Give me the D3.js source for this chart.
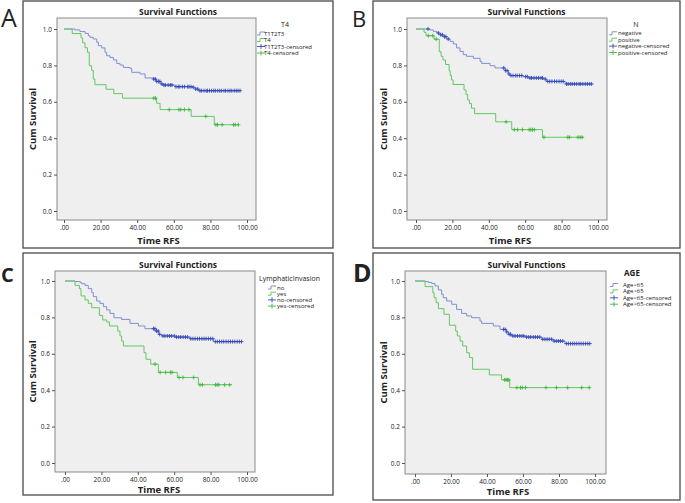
<!DOCTYPE html>
<html>
<head>
<meta charset="utf-8">
<script src="https://cdn.jsdelivr.net/npm/d3@7"></script>
<style>
body{margin:0;background:#fff}
svg{display:block}
text{font-family:"Open Sans",sans-serif;fill:#222}
</style>
</head>
<body>
<svg id="d3-canvas" width="685" height="503"></svg>
<script>
// axis ticks shared by all four panels
const xTicks = [0,20,40,60,80,100]
const xTickLabels = [".00","20.00","40.00","60.00","80.00","100.00"]
const yTicks = [0,0.2,0.4,0.6,0.8,1.0]

// panel A : T4
const aLegendTitle = "T4"
const aLegend = ["T1T2T3","T4","T1T2T3-censored","T4-censored"]
const aBlueT = [6.0,8.7,11.5,13.3,14.2,16.0,17.9,18.8,20.6,22.4,23.3,25.1,27.0,28.8,30.6,32.4,36.1,37.0,41.5,44.3,48.8,50.6,52.5,54.3,60.7,69.8,71.6,73.4]
const aBlueS = [.995,.986,.976,.963,.954,.945,.927,.908,.896,.872,.853,.844,.830,.811,.802,.789,.784,.762,.753,.731,.725,.712,.698,.692,.683,.680,.670,.661]
const aBlueEnd = 96.2
const aBlueCens = [49.0,49.9,50.7,51.6,52.4,53.5,54.6,55.4,56.9,58.1,59.0,61.2,62.4,63.3,64.7,65.9,67.6,68.3,69.4,70.6,72.0,73.1,74.3,75.2,76.5,77.7,78.4,79.5,80.6,81.8,82.7,84.0,85.1,86.0,87.4,88.3,89.6,90.7,91.7,93.0,94.1,95.1,96.2]
const aGreenT = [4.5,9.3,10.2,11.5,12.8,13.8,15.1,16.0,16.9,23.0,27.2,32.0,50.6,52.5,69.5,82.1]
const aGreenS = [.975,.951,.924,.897,.872,.798,.773,.725,.694,.669,.645,.620,.592,.557,.520,.474]
const aGreenEnd = 95.5
const aGreenCens = [49.1,50.0,57.5,62.8,63.8,65.8,68.3,77.5,83.0,83.9,86.4,92.6,93.6,95.3]

// panel B : N
const bLegendTitle = "N"
const bLegend = ["negative","positive","negative-censored","positive-censored"]
const bBlueT = [7.7,9.5,11.4,13.2,15.0,16.8,18.7,20.5,22.3,24.2,26.0,27.8,31.5,35.2,36.1,40.7,43.4,48.9,50.8,51.6,59.0,61.7,70.0,71.8,81.9]
const bBlueS = [.995,.987,.978,.968,.958,.945,.932,.918,.896,.877,.859,.850,.839,.822,.811,.798,.786,.771,.753,.744,.738,.731,.725,.712,.698]
const bBlueEnd = 96.5
const bBlueCens = [6.6,12.3,13.6,14.5,15.6,16.4,17.7,48.2,49.3,50.1,51.1,52.2,53.3,54.6,55.6,56.9,58.1,60.2,61.2,62.6,63.5,64.8,66.1,67.3,68.6,69.5,71.0,72.4,73.5,74.7,76.1,77.3,78.6,79.8,80.9,82.7,83.6,84.8,85.9,87.1,88.3,89.6,90.5,91.7,93.0,94.2,95.4,96.5]
const bGreenT = [4.4,5.5,9.9,12.8,13.8,14.8,16.2,18.2,18.8,19.5,20.4,26.4,27.5,28.4,29.4,30.5,32.2,43.8,52.6,69.5]
const bGreenS = [.982,.963,.944,.875,.850,.830,.805,.770,.745,.720,.695,.665,.640,.610,.590,.565,.535,.490,.447,.405]
const bGreenEnd = 92.0
const bGreenCens = [6.8,9.2,11.1,49.5,54.0,55.8,58.5,62.2,63.1,64.0,65.0,70.3,83.4,84.3,89.0,90.2,91.3]

// panel C : LymphaticInvasion
const cLegendTitle = "LymphaticInvasion"
const cLegend = ["no","yes","no-censored","yes-censored"]
const cBlueT = [5.5,8.4,9.2,11.0,12.8,14.7,15.6,17.4,19.2,21.1,22.9,24.7,26.9,31.1,35.7,40.3,43.9,49.5,51.3,53.1,60.4,68.7,81.5]
const cBlueS = [.997,.991,.985,.976,.958,.936,.914,.890,.877,.859,.841,.822,.798,.789,.767,.753,.738,.725,.707,.698,.692,.683,.667]
const cBlueEnd = 97.1
const cBlueCens = [48.6,49.4,50.3,51.2,52.0,53.8,54.9,56.2,57.4,58.6,60.1,61.3,62.5,63.6,64.9,66.2,67.4,69.1,70.3,71.5,72.8,73.9,75.2,76.4,77.5,78.8,80.0,81.2,82.6,83.7,84.9,86.1,87.2,88.5,89.7,90.9,92.1,93.3,94.6,95.8,97.0]
const cGreenT = [5.5,7.9,8.8,11.0,12.8,14.7,18.9,20.7,22.9,24.4,29.0,30.2,31.1,32.1,43.4,44.5,47.1,51.3,61.7,73.3]
const cGreenS = [.976,.958,.918,.896,.877,.853,.811,.786,.775,.753,.725,.698,.670,.643,.606,.570,.543,.498,.470,.430]
const cGreenEnd = 91.6
const cGreenCens = [49.5,52.3,55.3,57.9,58.8,62.7,64.8,70.7,74.2,75.5,82.7,83.6,84.5,87.7,90.5]

// panel D : AGE
const dLegendTitle = "AGE"
const dLegend = ["Age<65","Age>65","Age<65-censored","Age>65-censored"]
const dBlueT = [5.6,7.4,9.3,11.1,13.0,14.8,15.7,17.6,20.4,23.1,25.9,28.7,31.5,36.1,37.0,43.5,47.2,50.9,51.9,53.7,61.1,70.4,76.9,83.3]
const dBlueS = [.997,.992,.986,.973,.951,.927,.908,.890,.872,.844,.822,.808,.798,.780,.767,.753,.734,.720,.707,.698,.692,.680,.670,.656]
const dBlueEnd = 97.2
const dBlueCens = [49.2,50.1,51.0,52.3,53.1,54.4,55.6,56.9,58.2,59.4,60.5,62.0,63.2,64.3,65.7,66.9,68.1,69.3,71.0,72.2,73.4,74.6,75.9,77.3,78.5,79.7,80.8,82.1,84.1,85.2,86.4,87.6,88.7,89.9,91.1,92.3,93.5,94.8,96.0,97.1]
const dGreenT = [5.6,9.9,10.6,11.7,13.0,16.1,19.1,22.6,23.5,25.0,26.5,28.7,30.2,32.0,41.3,48.1,52.6]
const dGreenS = [.969,.936,.908,.881,.848,.817,.757,.725,.698,.670,.643,.606,.579,.515,.484,.457,.414]
const dGreenEnd = 96.8
const dGreenCens = [49.8,50.6,51.4,52.1,56.6,58.6,59.6,61.4,72.8,78.6,84.8,92.6,96.8]

const blueLine = "#7f8fd6", blueMark = "#3447b8"
const greenLine = "#62c862", greenMark = "#3fb83f"

// value of the step function at time t
function surv_at(t,T,S){
  let s = 1
  for (var i = 0; i < T.length; i++) if (T[i] <= t) s = S[i]
  return s
}

function draw_panel(p){
  const svg = d3.select('#d3-canvas')
  const x = d3.scaleLinear().domain([0,100]).range(p.xr)
  const y = d3.scaleLinear().domain([0,1]).range(p.yr)
  const [l,t,r,b] = p.plot

  svg.append("rect").attr("x",p.outer[0]).attr("y",p.outer[1])
    .attr("width",p.outer[2]-p.outer[0]).attr("height",p.outer[3]-p.outer[1])
    .attr("fill","#fff").attr("stroke","#4a4a4a").attr("stroke-width",1.3)
  svg.append("rect").attr("x",l).attr("y",t).attr("width",r-l).attr("height",b-t)
    .attr("fill","#efefef").attr("stroke","#8a8a8a").attr("stroke-width",1)

  // axes
  const xa = svg.append("g").attr("transform",`translate(0,${b})`)
    .call(d3.axisBottom(x).tickValues(xTicks).tickFormat((d,i)=>xTickLabels[i]).tickSize(3).tickPadding(2))
  const ya = svg.append("g").attr("transform",`translate(${l},0)`)
    .call(d3.axisLeft(y).tickValues(yTicks).tickFormat(d3.format(".1f")).tickSize(3).tickPadding(2))
  for (const a of [xa,ya]) {
    a.select(".domain").remove()
    a.selectAll("line").attr("stroke","#555")
    a.selectAll("text").style("font-size","6.5px").attr("fill","#333")
  }

  svg.append("text").attr("x",(p.outer[0]+p.outer[2])/2).attr("y",t-3)
    .attr("text-anchor","middle").style("font-size","8.5px").style("font-weight","bold").text("Survival Functions")
  svg.append("text").attr("x",(p.xr[0]+p.xr[1])/2+3).attr("y",p.xlab)
    .attr("text-anchor","middle").style("font-size","9.5px").style("font-weight","bold").text("Time RFS")
  svg.append("text").attr("transform",`translate(${p.ylab},${(t+b)/2}) rotate(-90)`)
    .attr("text-anchor","middle").style("font-size","9.5px").style("font-weight","bold").text("Cum Survival")

  svg.append("text").attr("x",p.letter[0]).attr("y",p.letter[1])
    .style("font-size",p.letter[2]+"px").style("font-weight",p.letter[3]).attr("fill","#000").text(p.name)

  // step curves, then censor crosses
  const line = d3.line().x(d=>x(d[0])).y(d=>y(d[1])).curve(d3.curveStepAfter)
  const series = [[p.blueT,p.blueS,p.blueEnd,p.blueCens,blueLine,blueMark],
                  [p.greenT,p.greenS,p.greenEnd,p.greenCens,greenLine,greenMark]]
  for (const [T,S,end,cens,lc,mc] of series) {
    const pts = [[0,1]]
    for (var i = 0; i < T.length; i++) pts.push([T[i],S[i]])
    pts.push([end,S[S.length-1]])
    svg.append("path").datum(pts).attr("fill","none").attr("stroke",lc)
      .attr("stroke-width",1).attr("d",line)
    for (var i = 0; i < cens.length; i++) {
      const cx = x(cens[i]), cy = y(surv_at(cens[i],T,S))
      svg.append("path").attr("d",`M${cx-2},${cy}h4M${cx},${cy-2}v4`)
        .attr("stroke",mc).attr("stroke-width",0.9).attr("fill","none")
    }
  }

  // legend
  const lg = p.legend
  svg.append("text").attr("x",lg.tx).attr("y",lg.ty).attr("text-anchor",lg.anchor)
    .style("font-size",lg.tsize+"px").style("font-weight",lg.tweight).text(p.legendTitle)
  const cols = [blueLine,greenLine,blueMark,greenMark]
  for (var i = 0; i < 4; i++) {
    const yy = lg.y + i*lg.step, xx = lg.x
    if (i < 2) {
      svg.append("path").attr("d",`M${xx},${yy+1.5}h3v-3h5`).attr("fill","none")
        .attr("stroke",cols[i]).attr("stroke-width",1)
    } else {
      svg.append("path").attr("d",`M${xx},${yy}h8M${xx+4},${yy-2.5}v5`).attr("fill","none")
        .attr("stroke",cols[i]).attr("stroke-width",0.9)
    }
    svg.append("text").attr("x",xx+lg.gap).attr("y",yy+2).style("font-size","6px")
      .attr("fill","#333").text(p.legendItems[i])
  }
}

draw_panel({name:"A",letter:[1,27,25,"normal"],outer:[23,1,333,248],plot:[57,18,256,220],xr:[64,247],yr:[211,29],ylab:36,xlab:243.5,
  blueT:aBlueT,blueS:aBlueS,blueEnd:aBlueEnd,blueCens:aBlueCens,greenT:aGreenT,greenS:aGreenS,greenEnd:aGreenEnd,greenCens:aGreenCens,
  legendTitle:aLegendTitle,legendItems:aLegend,legend:{tx:285,ty:27,anchor:"middle",tsize:7,tweight:"normal",x:257,y:33.5,step:6.5,gap:7}})
draw_panel({name:"B",letter:[352,27,22,"normal"],outer:[373,1,680,248],plot:[407,18,607,220],xr:[416,598],yr:[211,29],ylab:387,xlab:243.5,
  blueT:bBlueT,blueS:bBlueS,blueEnd:bBlueEnd,blueCens:bBlueCens,greenT:bGreenT,greenS:bGreenS,greenEnd:bGreenEnd,greenCens:bGreenCens,
  legendTitle:bLegendTitle,legendItems:bLegend,legend:{tx:636,ty:27,anchor:"middle",tsize:7,tweight:"normal",x:609,y:33.3,step:6.4,gap:9}})
draw_panel({name:"C",letter:[1,282,20,"bold"],outer:[23,253,333,495],plot:[55,271,255,472],xr:[65,247],yr:[463,281],ylab:36,xlab:492.5,
  blueT:cBlueT,blueS:cBlueS,blueEnd:cBlueEnd,blueCens:cBlueCens,greenT:cGreenT,greenS:cGreenS,greenEnd:cGreenEnd,greenCens:cGreenCens,
  legendTitle:cLegendTitle,legendItems:cLegend,legend:{tx:259,ty:281,anchor:"start",tsize:7,tweight:"normal",x:268,y:287.5,step:6.2,gap:9}})
draw_panel({name:"D",letter:[353,282,25,"bold"],outer:[373,253,680,500],plot:[405,271,606,474],xr:[415,595],yr:[463,281],ylab:387,xlab:495,
  blueT:dBlueT,blueS:dBlueS,blueEnd:dBlueEnd,blueCens:dBlueCens,greenT:dGreenT,greenS:dGreenS,greenEnd:dGreenEnd,greenCens:dGreenCens,
  legendTitle:dLegendTitle,legendItems:dLegend,legend:{tx:632,ty:276,anchor:"middle",tsize:8,tweight:"bold",x:610,y:285,step:6.4,gap:13}})
</script>
</body>
</html>
